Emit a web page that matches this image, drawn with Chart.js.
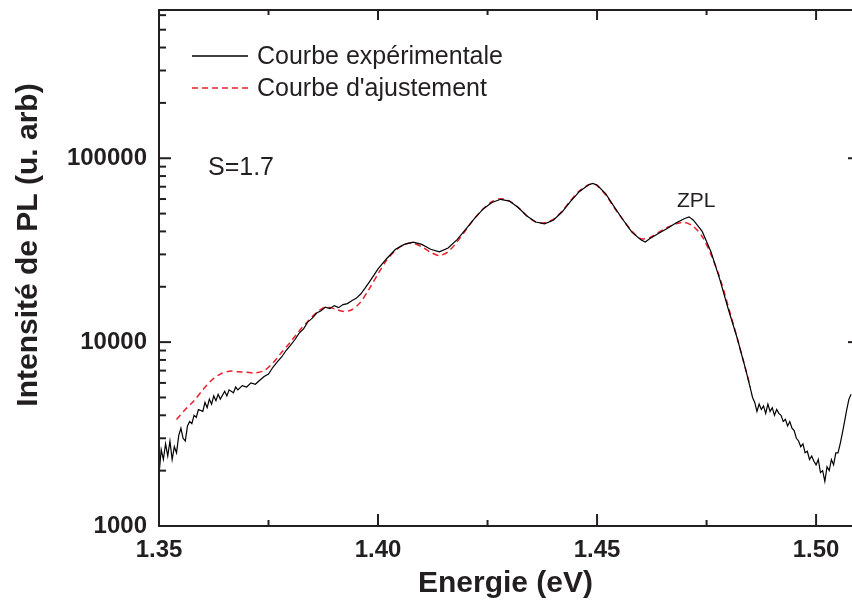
<!DOCTYPE html>
<html>
<head>
<meta charset="utf-8">
<script src="https://cdn.jsdelivr.net/npm/chart.js@4.4.1/dist/chart.umd.min.js"></script>
<style>
  html, body { margin: 0; padding: 0; background: #fff; }
  #wrap { width: 852px; height: 606px; }
</style>
</head>
<body>
<div id="wrap"><canvas id="plChart"></canvas></div>
<script>
// Courbe expérimentale (energie en eV, intensité en u. arb)
const expE = [
  1.3500, 1.3505, 1.3510, 1.3515, 1.3520, 1.3525, 1.3530, 1.3535, 1.3540, 1.3545,
  1.3550, 1.3555, 1.3560, 1.3565, 1.3570, 1.3575, 1.3580, 1.3585, 1.3590, 1.3600,
  1.3605, 1.3610, 1.3615, 1.3620, 1.3625, 1.3630, 1.3635, 1.3640, 1.3650, 1.3655,
  1.3660, 1.3670, 1.3675, 1.3680, 1.3690, 1.3700, 1.3710, 1.3720, 1.3730, 1.3740,
  1.3750, 1.3760, 1.3770, 1.3780, 1.3790, 1.3800, 1.3810, 1.3820, 1.3830, 1.3840,
  1.3850, 1.3860, 1.3870, 1.3880, 1.3890, 1.3900, 1.3910, 1.3920, 1.3930, 1.3940,
  1.3950, 1.3960, 1.3970, 1.3980, 1.3990, 1.4000, 1.4020, 1.4040, 1.4060, 1.4080,
  1.4100, 1.4120, 1.4140, 1.4160, 1.4180, 1.4200, 1.4220, 1.4240, 1.4260, 1.4280,
  1.4300, 1.4320, 1.4340, 1.4360, 1.4380, 1.4400, 1.4420, 1.4440, 1.4460, 1.4480,
  1.4490, 1.4500, 1.4520, 1.4540, 1.4560, 1.4580, 1.4600, 1.4610, 1.4620, 1.4640,
  1.4660, 1.4680, 1.4700, 1.4710, 1.4720, 1.4740, 1.4760, 1.4780, 1.4800, 1.4820,
  1.4840, 1.4850, 1.4855, 1.4860, 1.4865, 1.4870, 1.4875, 1.4880, 1.4885, 1.4890,
  1.4895, 1.4900, 1.4905, 1.4910, 1.4915, 1.4920, 1.4925, 1.4930, 1.4935, 1.4940,
  1.4945, 1.4950, 1.4955, 1.4960, 1.4965, 1.4970, 1.4975, 1.4980, 1.4985, 1.4990,
  1.4995, 1.5000, 1.5005, 1.5010, 1.5015, 1.5020, 1.5025, 1.5030, 1.5035, 1.5040,
  1.5045, 1.5050, 1.5055, 1.5060, 1.5065, 1.5070, 1.5075, 1.5080
];
const expI = [
  1900, 2600, 2300, 2800, 2400, 2900, 2300, 2700, 2500, 3100,
  3400, 3000, 2900, 3500, 3700, 3600, 4000, 3900, 4300, 4200,
  4700, 4400, 4900, 4600, 5100, 4800, 5200, 4900, 5400, 5100,
  5500, 5300, 5700, 5500, 5800, 5700, 6000, 5900, 6200, 6500,
  6700, 7300, 7800, 8300, 9000, 9600, 10300, 11200, 11800, 12900,
  13500, 14400, 14800, 15500, 15200, 15800, 15400, 16000, 16200, 16800,
  17300, 18200, 19600, 21200, 23000, 25000, 28500, 32000, 34000, 35000,
  34000, 32000, 31000, 32500, 36000, 41000, 47000, 53000, 57500, 59800,
  58500, 54000, 48500, 45000, 44000, 46000, 51000, 58500, 66000, 71500,
  73000, 71500, 64000, 54000, 46000, 39500, 36000, 35000, 36500, 39000,
  41500, 44500, 47000, 48000, 46000, 40000, 31000, 22000, 15000, 10500,
  7000, 5600, 5000, 4700, 4200, 4600, 4300, 4500, 4100, 4600,
  4200, 4400, 4000, 4300, 4100, 4000, 3700, 3800, 3500, 3700,
  3400, 3300, 3000, 2900, 2700, 2800, 2500, 2550, 2300, 2400,
  2250, 2150, 2300, 1950, 2000, 1750, 2100, 2000, 2300, 2150,
  2500, 2500, 2800, 3200, 3700, 4300, 4900, 5200
];

// Courbe d'ajustement
const fitE = [
  1.354, 1.356, 1.358, 1.360, 1.362, 1.364, 1.366, 1.368, 1.370, 1.372,
  1.374, 1.376, 1.378, 1.380, 1.382, 1.384, 1.386, 1.388, 1.390, 1.392,
  1.394, 1.396, 1.398, 1.400, 1.402, 1.404, 1.406, 1.408, 1.410, 1.412,
  1.414, 1.416, 1.418, 1.420, 1.422, 1.424, 1.426, 1.428, 1.430, 1.432,
  1.434, 1.436, 1.438, 1.440, 1.442, 1.444, 1.446, 1.448, 1.449, 1.450,
  1.452, 1.454, 1.456, 1.458, 1.460, 1.462, 1.464, 1.466, 1.468, 1.470,
  1.472, 1.474, 1.476, 1.478, 1.480, 1.482, 1.484, 1.485
];
const fitI = [
  3800, 4300, 4800, 5500, 6200, 6700, 6950, 6900, 6850, 6800,
  7000, 7700, 8800, 10000, 11500, 13000, 14500, 15500, 15200, 14700,
  15000, 16500, 19500, 23500, 28000, 31500, 34000, 34500, 33000, 30800,
  29600, 31000, 35000, 40500, 47000, 53000, 58000, 60300, 58500, 54000,
  48500, 45000, 44600, 46500, 51500, 59000, 66500, 71500, 72500, 71000,
  63000, 53500, 46000, 40000, 36500, 37000, 39500, 42000, 44000, 44800,
  42500, 37500, 30000, 22500, 15500, 10500, 7000, 5700
];

const xMajor = [1.35, 1.40, 1.45, 1.50];
const xMinor = [1.375, 1.425, 1.475];
const yMajor = [1000, 10000, 100000];

const ink = '#231f20';

const toPts = (xs, ys) => xs.map((v, i) => ({ x: v, y: ys[i] }));

// cadre (l'axe de droite tombe hors de l'image), graduations, legende
const extras = {
  id: 'extras',
  afterDraw(chart) {
    const { ctx, chartArea: a, scales: { x, y } } = chart;
    const right = chart.width;
    ctx.save();
    ctx.strokeStyle = ink;
    ctx.lineWidth = 2;
    ctx.beginPath();
    ctx.moveTo(right, a.top); ctx.lineTo(a.left, a.top);
    ctx.lineTo(a.left, a.bottom); ctx.lineTo(right, a.bottom);
    ctx.stroke();

    const tick = (x1, y1, x2, y2) => { ctx.beginPath(); ctx.moveTo(x1, y1); ctx.lineTo(x2, y2); ctx.stroke(); };
    xMajor.forEach(v => {
      const px = x.getPixelForValue(v);
      tick(px, a.bottom, px, a.bottom - 12);
      tick(px, a.top, px, a.top + 10);
    });
    xMinor.forEach(v => {
      const px = x.getPixelForValue(v);
      tick(px, a.bottom, px, a.bottom - 6);
      tick(px, a.top, px, a.top + 5);
    });
    for (let dec = 1000; dec <= y.max; dec *= 10) {
      for (let m = 1; m <= 9; m++) {
        const v = dec * m;
        if (v > y.max) break;
        const py = y.getPixelForValue(v);
        tick(a.left, py, a.left + (m === 1 ? 12 : 7), py);
        if (m === 1) tick(right, py, right - 4, py);
      }
    }

    // legende
    const ds = chart.data.datasets;
    ctx.font = '25px "Liberation Sans", Arial, sans-serif';
    ctx.textBaseline = 'middle';
    ds.forEach((d, i) => {
      const ly = 56 + i * 32;
      ctx.strokeStyle = d.borderColor;
      ctx.lineWidth = 1.5;
      ctx.setLineDash(d.borderDash || []);
      tick(192, ly, 248, ly);
      ctx.setLineDash([]);
      ctx.fillStyle = ink;
      ctx.fillText(d.label, 257, ly + 1);
    });

    ctx.fillText('S=1.7', 208, 168);
    ctx.font = '21px "Liberation Sans", Arial, sans-serif';
    ctx.textBaseline = 'alphabetic';
    ctx.fillText('ZPL', 677, 207);

    // titre de l'axe vertical
    ctx.font = 'bold 30px "Liberation Sans", Arial, sans-serif';
    ctx.textAlign = 'center';
    ctx.textBaseline = 'middle';
    ctx.translate(29, 245);
    ctx.rotate(-Math.PI / 2);
    ctx.fillText('Intensité de PL (u. arb)', 0, 0);
    ctx.restore();
  }
};

new Chart(document.getElementById('plChart'), {
  type: 'line',
  data: {
    datasets: [
      {
        label: 'Courbe expérimentale',
        data: toPts(expE, expI),
        borderColor: '#000000',
        borderWidth: 1.2,
        pointRadius: 0,
        tension: 0
      },
      {
        label: "Courbe d'ajustement",
        data: toPts(fitE, fitI),
        borderColor: '#e8202a',
        borderWidth: 1.5,
        borderDash: [6, 4],
        pointRadius: 0,
        tension: 0.3
      }
    ]
  },
  options: {
    responsive: true,
    maintainAspectRatio: false,
    animation: false,
    layout: { padding: { top: 10, right: 0, left: 0, bottom: 0 } },
    plugins: {
      legend: { display: false },
      tooltip: { enabled: false }
    },
    scales: {
      x: {
        type: 'linear',
        min: 1.35,
        max: 1.5082,
        afterFit: s => { s.height = 80; s.paddingLeft = 0; s.paddingRight = 0; },
        afterBuildTicks: s => { s.ticks = xMajor.map(v => ({ value: v })); },
        grid: { display: false, drawTicks: false },
        border: { display: false },
        ticks: {
          padding: 10,
          color: ink,
          maxRotation: 0,
          font: { family: '"Liberation Sans", Arial, sans-serif', size: 24, weight: 'bold' },
          callback: v => v.toFixed(2)
        },
        title: {
          display: true,
          text: 'Energie (eV)',
          color: ink,
          padding: { top: 0, bottom: 4 },
          font: { family: '"Liberation Sans", Arial, sans-serif', size: 30, weight: 'bold' }
        }
      },
      y: {
        type: 'logarithmic',
        min: 1000,
        max: 640000,
        afterFit: s => { s.width = 159; s.paddingTop = 0; s.paddingBottom = 0; },
        afterBuildTicks: s => { s.ticks = yMajor.map(v => ({ value: v })); },
        grid: { display: false, drawTicks: false },
        border: { display: false },
        ticks: {
          padding: 12,
          color: ink,
          font: { family: '"Liberation Sans", Arial, sans-serif', size: 24, weight: 'bold' },
          callback: v => String(v)
        }
      }
    }
  },
  plugins: [extras]
});
</script>
</body>
</html>
